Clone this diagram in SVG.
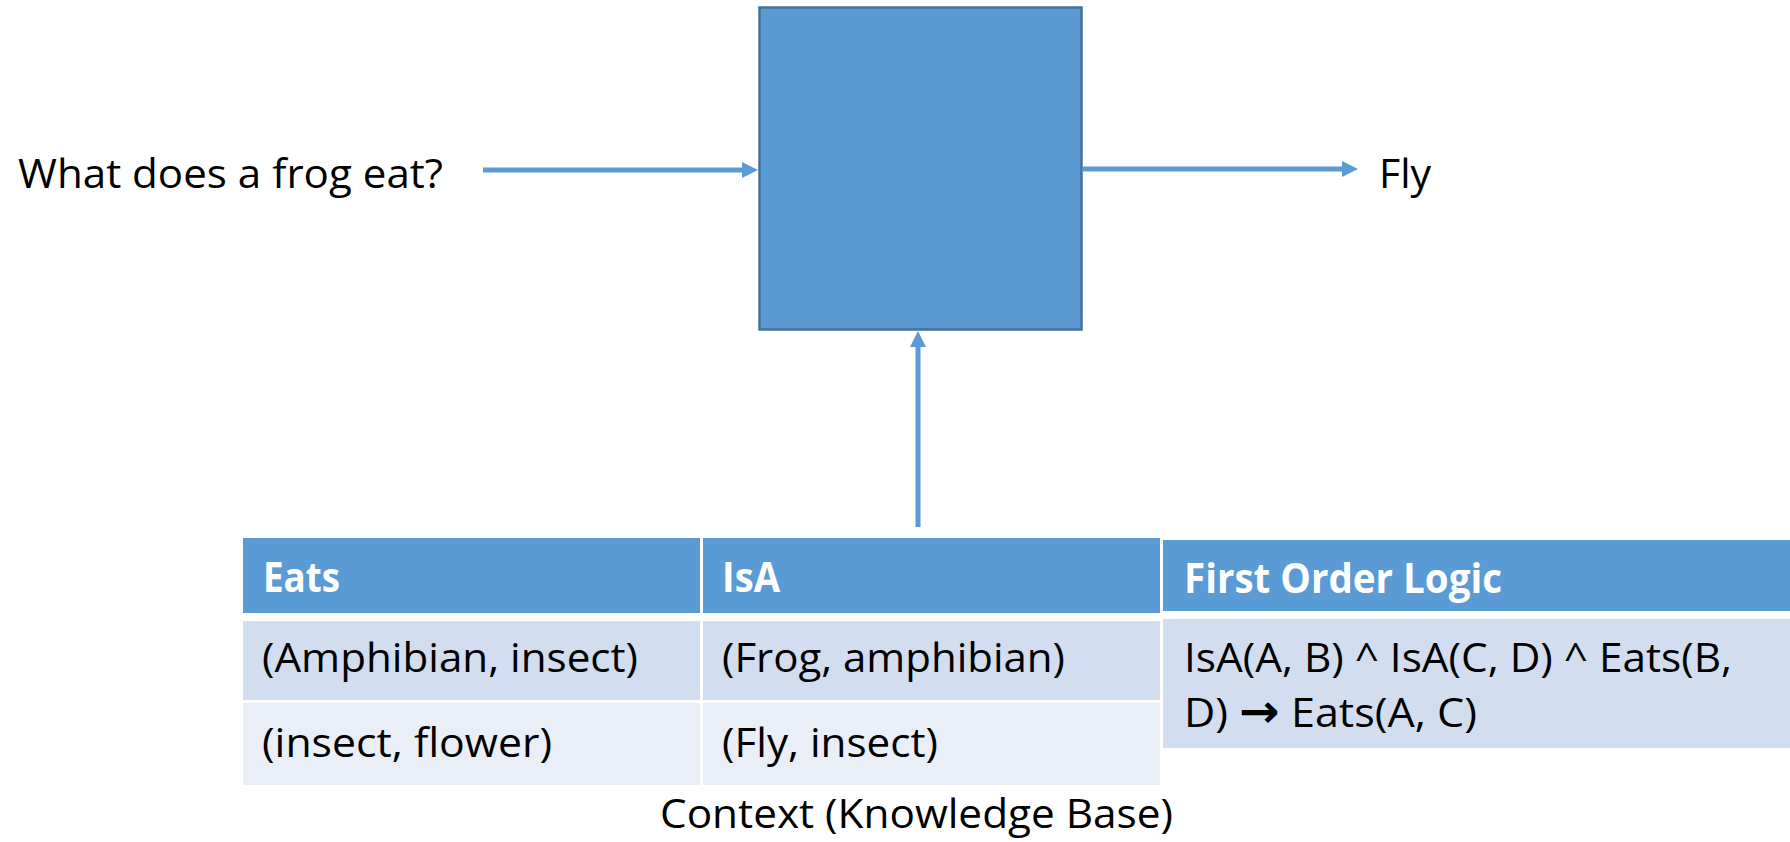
<svg xmlns="http://www.w3.org/2000/svg" width="1790" height="842" viewBox="0 0 1790 842">
  <style>
    .txt { font-family: "Open Sans", "Liberation Sans", sans-serif; font-size: 41px; fill: #000000; }
    .hdr { font-family: "Open Sans", "Liberation Sans", sans-serif; font-size: 41px; font-weight: bold; fill: #FFFFFF; }
    .head { fill: #5B9BD5; }
    .odd { fill: #D2DEEF; }
    .even { fill: #EAEFF7; }
    .conn { stroke: #5B9BD5; stroke-width: 5; fill: none; }
  </style>
  <defs>
    <marker id="arrowhead" markerUnits="userSpaceOnUse" markerWidth="16" markerHeight="16" viewBox="0 0 16 16" refX="0" refY="8" orient="auto">
      <path d="M0,0 L16,8 L0,16 Z" fill="#5B9BD5"/>
    </marker>
  </defs>
  <rect x="0" y="0" width="1790" height="842" fill="#FFFFFF"/>

  <!-- model block -->
  <g id="model">
    <rect x="759.5" y="7.5" width="322" height="322" fill="#5B9BD5" stroke="#41719C" stroke-width="2.5"/>
  </g>

  <!-- question input -->
  <g id="question">
    <text class="txt" x="18" y="188" textLength="425" lengthAdjust="spacingAndGlyphs">What does a frog eat?</text>
  </g>

  <!-- answer output -->
  <g id="answer">
    <text class="txt" x="1379" y="188" textLength="52" lengthAdjust="spacingAndGlyphs">Fly</text>
  </g>

  <!-- relation tables: Eats and IsA -->
  <g id="relations">
    <rect class="head" x="243" y="538" width="457" height="75"/>
    <rect class="head" x="703" y="538" width="457" height="75"/>
    <rect class="odd" x="243" y="621" width="457" height="79"/>
    <rect class="odd" x="703" y="621" width="457" height="79"/>
    <rect class="even" x="243" y="703" width="457" height="82"/>
    <rect class="even" x="703" y="703" width="457" height="82"/>
    <text class="hdr" x="263" y="592" textLength="77" lengthAdjust="spacingAndGlyphs">Eats</text>
    <text class="hdr" x="722" y="592" textLength="58" lengthAdjust="spacingAndGlyphs">IsA</text>
    <text class="txt" x="262" y="672" textLength="376" lengthAdjust="spacingAndGlyphs">(Amphibian, insect)</text>
    <text class="txt" x="722" y="672" textLength="343" lengthAdjust="spacingAndGlyphs">(Frog, amphibian)</text>
    <text class="txt" x="262" y="757" textLength="290" lengthAdjust="spacingAndGlyphs">(insect, flower)</text>
    <text class="txt" x="722" y="757" textLength="216" lengthAdjust="spacingAndGlyphs">(Fly, insect)</text>
  </g>

  <!-- rule table -->
  <g id="logic">
    <rect class="head" x="1163" y="540" width="627" height="71"/>
    <rect class="odd" x="1163" y="619" width="627" height="129"/>
    <text class="hdr" x="1184" y="593" textLength="318" lengthAdjust="spacingAndGlyphs">First Order Logic</text>
    <text class="txt" x="1184" y="672" textLength="548" lengthAdjust="spacingAndGlyphs">IsA(A, B) ^ IsA(C, D) ^ Eats(B,</text>
    <text class="txt" x="1184" y="727" textLength="293" lengthAdjust="spacingAndGlyphs">D) <tspan font-family="DejaVu Sans, sans-serif" font-weight="bold" font-size="46">→</tspan> Eats(A, C)</text>
  </g>

  <!-- knowledge base caption -->
  <g id="context">
    <text class="txt" x="660" y="828" textLength="513" lengthAdjust="spacingAndGlyphs">Context (Knowledge Base)</text>
  </g>

  <!-- connectors -->
  <g id="connectors">
    <line class="conn" x1="483" y1="170" x2="742" y2="170" marker-end="url(#arrowhead)"/>
    <line class="conn" x1="1083" y1="169" x2="1342" y2="169" marker-end="url(#arrowhead)"/>
    <line class="conn" x1="918" y1="527" x2="918" y2="347" marker-end="url(#arrowhead)"/>
  </g>
</svg>
